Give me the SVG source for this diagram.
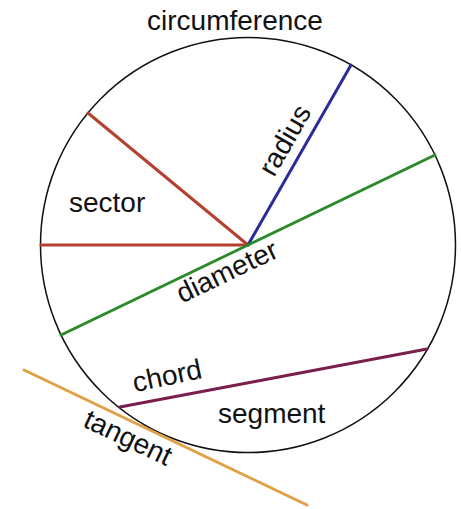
<svg xmlns="http://www.w3.org/2000/svg" width="461" height="509" viewBox="0 0 461 509">
<style>
text{font-family:"Liberation Sans",Arial,sans-serif;font-size:28px;fill:#111}
.ln{stroke-width:3;stroke-linecap:round;fill:none}
</style>
<rect width="461" height="509" fill="#fff"/>
<g id="circle">
<circle cx="248" cy="245" r="207.5" fill="none" stroke="#111" stroke-width="1.5"/>
<text x="235" y="30" text-anchor="middle">circumference</text>
</g>
<g id="connectors">
<line class="ln" x1="41" y1="245" x2="248" y2="245" stroke="#b5402f"/>
<line class="ln" x1="88" y1="113" x2="248" y2="245" stroke="#b5402f"/>
<line class="ln" x1="248" y1="245" x2="351" y2="65" stroke="#2b2b9a"/>
<line class="ln" x1="61" y1="335" x2="435" y2="155" stroke="#2a8a2a"/>
<line class="ln" x1="120" y1="407" x2="427" y2="349" stroke="#7a1f4d"/>
<line class="ln" x1="24" y1="370" x2="307" y2="505" stroke="#e0a043"/>
</g>
<g id="sector"><text x="69" y="212">sector</text></g>
<g id="radius"><text transform="translate(293,145) rotate(-60)" text-anchor="middle">radius</text></g>
<g id="diameter"><text transform="translate(231,280) rotate(-25.7)" text-anchor="middle">diameter</text></g>
<g id="chord"><text transform="translate(169,385) rotate(-12)" text-anchor="middle">chord</text></g>
<g id="segment"><text x="218" y="423">segment</text></g>
<g id="tangent"><text transform="translate(124,446) rotate(25.5)" text-anchor="middle">tangent</text></g>
</svg>
